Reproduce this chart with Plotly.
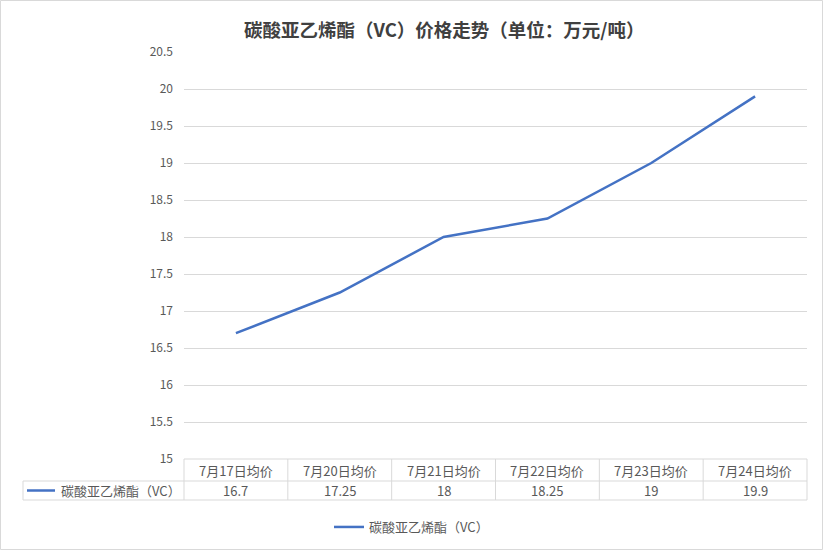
import plotly.graph_objects as go

# 数据
dates = ["7月17日均价", "7月20日均价", "7月21日均价", "7月22日均价", "7月23日均价", "7月24日均价"]
prices = [16.7, 17.25, 18, 18.25, 19, 19.9]
price_labels = ["16.7", "17.25", "18", "18.25", "19", "19.9"]
series_name = "碳酸亚乙烯酯（VC）"
title_text = "碳酸亚乙烯酯（VC）价格走势（单位：万元/吨）"

W, H = 823, 550
L, R, T, B = 184, 16, 52, 91
pw, ph = W - L - R, H - T - B

def px_x(x):
    return (x - L) / pw

def px_y(y):
    return (H - B - y) / ph

line_col = "#4472C4"
grid_col = "#D9D9D9"
txt_col = "#595959"
font = "Noto Sans CJK SC"

fig = go.Figure()
fig.add_trace(go.Scatter(x=dates, y=prices, mode="lines", name=series_name,
                         line=dict(color=line_col, width=2.5)))

shapes = []
annotations = []

# 数据表
row1_top, row1_bot, row2_bot = 459, 481, 500
col_w = pw / len(dates)
tbl_left = 23
border = dict(color=grid_col, width=1)
shapes.append(dict(type="line", xref="paper", yref="paper", x0=0, x1=1,
                   y0=px_y(row1_top), y1=px_y(row1_top), line=border))
for yy in [row1_bot, row2_bot]:
    shapes.append(dict(type="line", xref="paper", yref="paper", x0=px_x(tbl_left), x1=1,
                       y0=px_y(yy), y1=px_y(yy), line=border))
for i in range(len(dates) + 1):
    xx = L + i * col_w
    shapes.append(dict(type="line", xref="paper", yref="paper", x0=px_x(xx), x1=px_x(xx),
                       y0=px_y(row1_top), y1=px_y(row2_bot), line=border))
shapes.append(dict(type="line", xref="paper", yref="paper", x0=px_x(tbl_left), x1=px_x(tbl_left),
                   y0=px_y(row1_bot), y1=px_y(row2_bot), line=border))

cell_font = dict(size=13, color=txt_col, family=font)
for d, lab in zip(dates, price_labels):
    annotations.append(dict(x=d, xref="x", yref="paper", y=px_y((row1_top + row1_bot) / 2),
                            yanchor="middle", text=d, showarrow=False, font=cell_font))
    annotations.append(dict(x=d, xref="x", yref="paper", y=px_y((row1_bot + row2_bot) / 2),
                            yanchor="middle", text=lab, showarrow=False, font=cell_font))

# 表中图例
shapes.append(dict(type="line", xref="paper", yref="paper", x0=px_x(27), x1=px_x(55),
                   y0=px_y(490.5), y1=px_y(490.5), line=dict(color=line_col, width=2.5)))
annotations.append(dict(x=px_x(59), xref="paper", yref="paper", y=px_y(490.5), xanchor="left",
                        yanchor="middle", text=series_name, showarrow=False, font=cell_font))

# 标题
annotations.append(dict(x=px_x(444), xref="paper", yref="paper", y=px_y(29), yanchor="middle",
                        text="<b>" + title_text + "</b>", showarrow=False,
                        font=dict(size=18.5, color="#404040", family=font)))

# 外框
shapes.append(dict(type="rect", xref="paper", yref="paper", x0=px_x(0.5), x1=px_x(W - 0.5),
                   y0=px_y(H - 0.5), y1=px_y(0.5), line=dict(color=grid_col, width=1)))

fig.update_layout(
    width=W, height=H,
    margin=dict(l=L, r=R, t=T, b=B),
    plot_bgcolor="white", paper_bgcolor="white",
    font=dict(family=font, color=txt_col, size=12),
    shapes=shapes, annotations=annotations,
    showlegend=True,
    legend=dict(orientation="h", xref="container", yref="container", x=0.5, xanchor="center",
                y=(H - 527) / H, yanchor="middle", font=dict(size=13, color=txt_col, family=font)),
)
fig.update_xaxes(type="category", showticklabels=False, showgrid=False, zeroline=False,
                 showline=False, range=[-0.5, len(dates) - 0.5])
fig.update_yaxes(range=[15, 20.5], dtick=0.5, tick0=15, showgrid=True, gridcolor=grid_col,
                 zeroline=False, showline=False, ticklabelstandoff=10,
                 tickfont=dict(size=12, color=txt_col, family=font))

fig.write_html("out.html", config={"displayModeBar": False},
               post_script="document.body.style.margin='0';")
